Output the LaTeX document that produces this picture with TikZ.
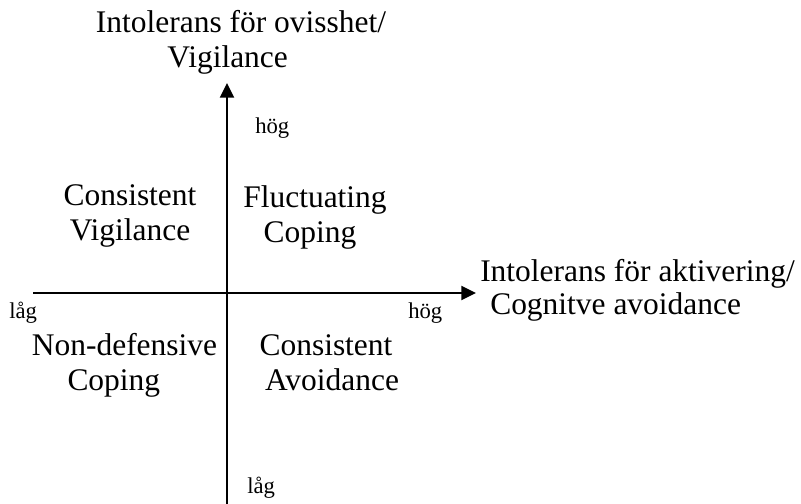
\documentclass[tikz,border=0pt]{standalone}
\usepackage{fontspec}
\setmainfont{Liberation Serif}
\usepackage{tikz}
\usetikzlibrary{arrows.meta}
\newcommand{\axisfont}{\fontsize{23.6}{26.25}\selectfont}
\newcommand{\tickfont}{\fontsize{17}{19}\selectfont}
\tikzstyle{label} = [inner sep=0pt, align=center, font=\axisfont, anchor=base]
\tikzstyle{tick} = [inner sep=0pt, font=\tickfont, anchor=base west]
\tikzstyle{arrow} = [line width=1.5pt, -{Triangle[length=11pt,width=10.5pt]}]

\begin{document}
\begin{tikzpicture}[x=0.75pt, y=-0.75pt]
	\useasboundingbox (0,0) rectangle (801,504);
	% axes
	\coordinate (ybot) at (227,504);
	\coordinate (ytop) at (227,83);
	\coordinate (xleft) at (33,293);
	\coordinate (xright) at (476,293);
	\draw [arrow] (ybot) -- (ytop);
	\draw [arrow] (xleft) -- (xright);
	% axis titles
	\node (ytitle) [label] at (241,67) {Intolerans för ovisshet/\\Vigilance\hspace*{20pt}};
	\node (xtitle) [label, anchor=base west, align=left, font=\fontsize{23.6}{24.75}\selectfont] at (480,314) {Intolerans för aktivering/\\\hspace*{7.5pt}Cognitve avoidance};
	% ticks
	\node (yhigh) [tick] at (255,133) {hög};
	\node (ylow) [tick] at (247,493) {låg};
	\node (xlow) [tick] at (9,318) {låg};
	\node (xhigh) [tick] at (408,318) {hög};
	% quadrants
	\node (consvig) [label] at (130,240) {Consistent\\Vigilance};
	\node (fluct) [label] at (315,242) {Fluctuating\\Coping\hspace*{7.5pt}};
	\node (nondef) [label] at (124.5,390) {Non-defensive\\Coping\hspace*{16pt}};
	\node (consavo) [label] at (326,390) {Consistent\\\hspace*{9pt}Avoidance};
\end{tikzpicture}
\end{document}
